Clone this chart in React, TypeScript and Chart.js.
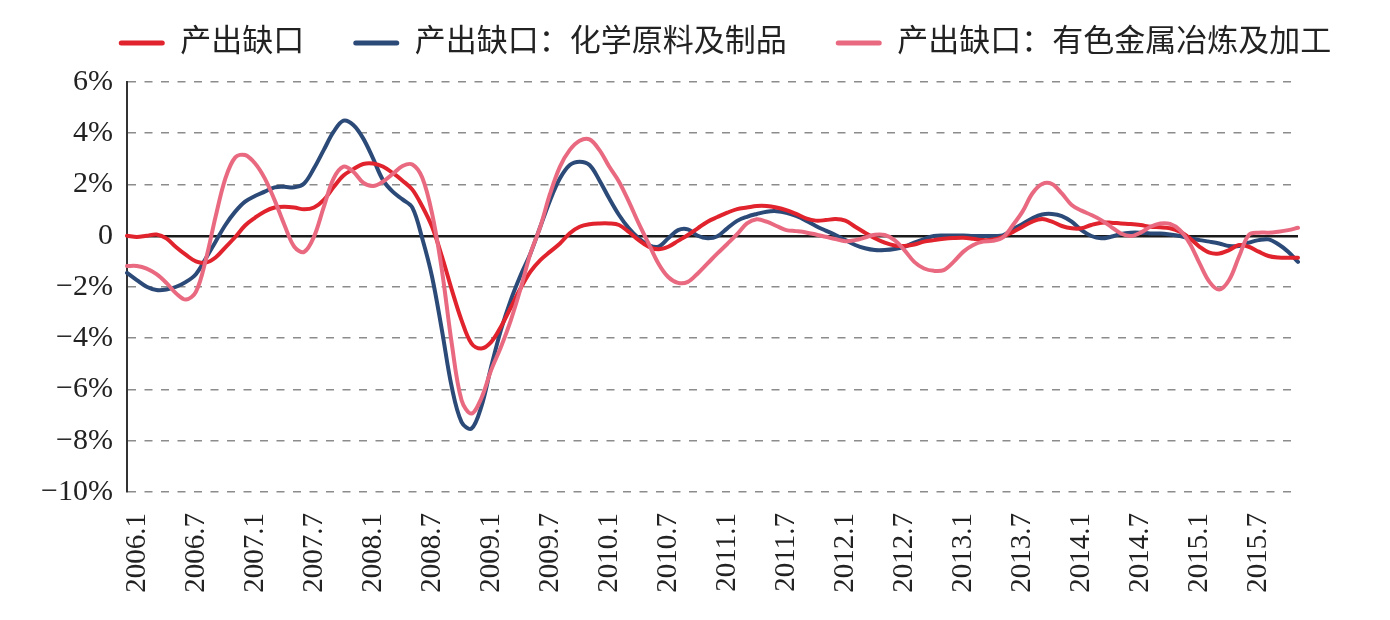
import React, { useEffect, useRef } from 'react';
import { Chart, registerables } from 'chart.js';

Chart.register(...registerables);

const years = [2006, 2007, 2008, 2009, 2010, 2011, 2012, 2013, 2014, 2015];
const monthLabels: string[] = [];
for (const y of years) {
  for (let m = 1; m <= 12; m++) monthLabels.push(`${y}.${m}`);
}

const seriesNames = ['产出缺口', '产出缺口：化学原料及制品', '产出缺口：有色金属冶炼及加工'];

const outputGap = [
  0.0, -0.05, 0.0, 0.05, -0.1, -0.45, -0.75, -1.0, -1.05, -0.85, -0.45, -0.05,
  0.4, 0.7, 0.95, 1.1, 1.13, 1.1, 1.03, 1.1, 1.4, 1.9, 2.35, 2.6,
  2.8, 2.82, 2.7, 2.45, 2.15, 1.8, 1.15, 0.35, -0.8, -2.1, -3.3, -4.2,
  -4.4, -4.15, -3.55, -2.8, -2.05, -1.4, -0.95, -0.62, -0.3, 0.1, 0.35, 0.45,
  0.48, 0.48, 0.42, 0.15, -0.17, -0.43, -0.53, -0.43, -0.2, 0.03, 0.29, 0.55,
  0.73, 0.9, 1.04, 1.1, 1.16, 1.16, 1.1, 1.0, 0.85, 0.68, 0.59, 0.61,
  0.65, 0.59, 0.35, 0.12, -0.1, -0.27, -0.38, -0.4, -0.34, -0.23, -0.17, -0.12,
  -0.09, -0.08, -0.12, -0.17, -0.15, -0.04, 0.14, 0.35, 0.55, 0.65, 0.55, 0.38,
  0.29, 0.29, 0.42, 0.51, 0.51, 0.48, 0.46, 0.42, 0.35, 0.33, 0.29, 0.16,
  -0.1, -0.43, -0.66, -0.69, -0.56, -0.36, -0.43, -0.62, -0.79, -0.85, -0.86, -0.86,
];

const chemicalGap = [
  -1.45, -1.73, -1.99, -2.12, -2.1, -1.99, -1.8, -1.5, -0.89, -0.23, 0.42, 0.94,
  1.33, 1.55, 1.72, 1.89, 1.91, 1.89, 2.04, 2.63, 3.35, 4.06, 4.49, 4.32,
  3.8, 3.02, 2.18, 1.72, 1.42, 1.1, -0.1, -1.6, -3.68, -5.9, -7.27, -7.53,
  -6.68, -5.12, -3.68, -2.51, -1.54, -0.69, 0.35, 1.39, 2.24, 2.76, 2.89, 2.76,
  2.17, 1.46, 0.81, 0.29, -0.1, -0.36, -0.43, -0.1, 0.22, 0.25, 0.0, -0.1,
  -0.02, 0.29, 0.58, 0.74, 0.85, 0.94, 0.96, 0.9, 0.77, 0.59, 0.38, 0.2,
  0.03, -0.17, -0.36, -0.49, -0.56, -0.56, -0.52, -0.43, -0.27, -0.13, -0.01, 0.01,
  0.01, 0.01, -0.01, -0.01, -0.01, 0.01, 0.25, 0.46, 0.68, 0.83, 0.85, 0.77,
  0.55, 0.22, -0.01, -0.1, -0.04, 0.07, 0.12, 0.12, 0.09, 0.09, 0.05, -0.01,
  -0.1, -0.17, -0.23, -0.3, -0.4, -0.4, -0.27, -0.17, -0.14, -0.33, -0.62, -1.02,
];

const nonferrousGap = [
  -1.18, -1.18, -1.28, -1.5, -1.84, -2.25, -2.49, -2.19, -0.95, 0.74, 2.24, 3.06,
  3.15, 2.83, 2.24, 1.39, 0.42, -0.43, -0.63, -0.04, 1.13, 2.24, 2.7, 2.5,
  2.07, 1.94, 2.11, 2.41, 2.72, 2.78, 2.27, 0.87, -1.34, -4.2, -6.42, -6.94,
  -6.35, -5.25, -4.34, -3.3, -2.06, -0.69, 0.35, 1.65, 2.7, 3.35, 3.71, 3.76,
  3.35, 2.7, 2.11, 1.33, 0.48, -0.3, -1.08, -1.61, -1.84, -1.8, -1.47, -1.08,
  -0.69, -0.32, 0.06, 0.48, 0.64, 0.55, 0.38, 0.22, 0.18, 0.13, 0.05, -0.04,
  -0.13, -0.21, -0.17, -0.07, 0.04, 0.03, -0.17, -0.56, -1.02, -1.28, -1.37, -1.34,
  -1.02, -0.62, -0.36, -0.23, -0.2, -0.07, 0.4, 0.94, 1.65, 2.02, 2.02, 1.65,
  1.2, 0.98, 0.81, 0.61, 0.35, 0.09, -0.01, 0.12, 0.35, 0.48, 0.46, 0.22,
  -0.3, -1.08, -1.8, -2.1, -1.73, -0.82, 0.03, 0.12, 0.12, 0.16, 0.22, 0.31,
];

const seriesColors = ['#E0232C', '#2C4A78', '#E96A80'];

const LEGEND_HEIGHT = 103.5;

export default function App() {
  const canvasRef = useRef<HTMLCanvasElement | null>(null);

  useEffect(() => {
    const canvas = canvasRef.current;
    if (!canvas) return;

    const legendSpace = {
      id: 'legendSpace',
      afterInit(chart: any) {
        const legend = chart.legend;
        if (!legend || legend.__patched) return;
        const orig = legend.fit;
        legend.fit = function () {
          orig.call(this);
          this.height = LEGEND_HEIGHT;
        };
        legend.__patched = true;
      },
    };

    const serif = '"Liberation Serif", "Times New Roman", serif';

    const chart = new Chart(canvas, {
      type: 'line',
      data: {
        labels: monthLabels,
        datasets: [
          { label: seriesNames[0], data: outputGap, borderColor: seriesColors[0], backgroundColor: seriesColors[0], order: 1 },
          { label: seriesNames[1], data: chemicalGap, borderColor: seriesColors[1], backgroundColor: seriesColors[1], order: 2 },
          { label: seriesNames[2], data: nonferrousGap, borderColor: seriesColors[2], backgroundColor: seriesColors[2], order: 0 },
        ],
      },
      options: {
        animation: false,
        responsive: true,
        maintainAspectRatio: false,
        layout: { padding: { left: 30, right: -30, top: -21.5, bottom: 0 } },
        elements: {
          line: { borderWidth: 4, tension: 0.35, borderCapStyle: 'round', borderJoinStyle: 'round' },
          point: { radius: 0, hoverRadius: 0 },
        },
        plugins: {
          tooltip: { enabled: false },
          legend: {
            display: true,
            position: 'top',
            align: 'center',
            fullSize: true,
            labels: {
              boxWidth: 46,
              boxHeight: 5,
              padding: 49,
              color: '#222',
              font: { family: '"Liberation Serif", "Noto Sans CJK SC", serif', size: 31 },
              generateLabels: (ch: any) =>
                ch.data.datasets.map((ds: any, i: number) => ({
                  text: ds.label,
                  fillStyle: ds.borderColor,
                  strokeStyle: ds.borderColor,
                  lineWidth: 0,
                  borderRadius: 2.5,
                  hidden: false,
                  datasetIndex: i,
                  fontColor: '#222',
                })),
            },
          },
        },
        scales: {
          x: {
            type: 'category',
            offset: false,
            grid: { display: false, drawTicks: false },
            border: { display: false },
            afterFit: (scale: any) => {
              scale.height = 128;
              scale.paddingRight = 92;
            },
            ticks: {
              autoSkip: false,
              maxRotation: 90,
              minRotation: 90,
              padding: 21,
              labelOffset: 10,
              color: '#222',
              font: { family: serif, size: 29 },
              callback: (_v: any, index: number) => (index % 6 === 0 ? monthLabels[index] : null),
            },
          },
          y: {
            min: -10,
            max: 6,
            afterFit: (scale: any) => {
              scale.width = 97;
            },
            grid: {
              drawTicks: false,
              color: (ctx: any) => (ctx.tick && ctx.tick.value === 0 ? '#1a1a1a' : '#8c8c8c'),
              lineWidth: (ctx: any) => (ctx.tick && ctx.tick.value === 0 ? 2.5 : 1.6),
            },
            border: {
              display: true,
              color: '#333',
              width: 2,
              dash: (ctx: any) => (ctx.tick && ctx.tick.value === 0 ? [] : [8, 8.5]),
            },
            ticks: {
              stepSize: 2,
              padding: 14,
              color: '#222',
              font: { family: serif, size: 30 },
              callback: (v: any) => {
                const n = Number(v);
                if (n === 0) return '0';
                return (n < 0 ? '\u2212' + Math.abs(n) : String(n)) + '%';
              },
            },
          },
        },
      },
      plugins: [legendSpace],
    } as any);

    return () => chart.destroy();
  }, []);

  return (
    <div style={{ position: 'absolute', left: 0, top: 0, width: 1390, height: 620, background: '#fff' }}>
      <canvas ref={canvasRef} />
    </div>
  );
}
